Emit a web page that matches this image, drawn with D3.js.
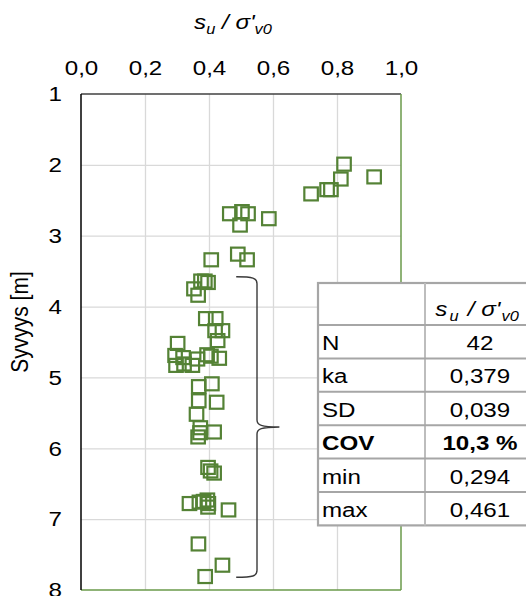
<!DOCTYPE html>
<html>
<head>
<meta charset="utf-8">
<script src="https://cdn.jsdelivr.net/npm/d3@7"></script>
<style>
  body { margin: 0; background: #fff; }
  text { font-family: "Liberation Sans", Arial, sans-serif; fill: #000; }
</style>
</head>
<body>
<svg id="chart" width="526" height="596"></svg>
<script>
// su / σ'v0 ratio against depth (m)
const ratio = [
  0.822, 0.812, 0.916, 0.769, 0.781, 0.719,
  0.465, 0.503, 0.522, 0.497, 0.587,
  0.407, 0.490, 0.519,
  0.375, 0.387, 0.397, 0.353, 0.366,
  0.390, 0.421, 0.419, 0.442, 0.427,
  0.302, 0.294, 0.297, 0.319, 0.322, 0.348, 0.364, 0.394, 0.406, 0.432,
  0.368, 0.409, 0.368, 0.424, 0.361, 0.373, 0.372, 0.366, 0.416,
  0.397, 0.405, 0.416,
  0.339, 0.370, 0.383, 0.395, 0.398, 0.397, 0.461,
  0.367, 0.442, 0.388
];
const depth = [
  1.99, 2.20, 2.17, 2.35, 2.35, 2.41,
  2.69, 2.66, 2.69, 2.85, 2.76,
  3.34, 3.26, 3.34,
  3.64, 3.64, 3.66, 3.75, 3.84,
  4.17, 4.17, 4.34, 4.34, 4.48,
  4.52, 4.69, 4.83, 4.72, 4.81, 4.83, 4.74, 4.68, 4.70, 4.73,
  5.13, 5.09, 5.33, 5.35, 5.52, 5.71, 5.78, 5.84, 5.77,
  6.27, 6.32, 6.35,
  6.78, 6.76, 6.75, 6.73, 6.78, 6.83, 6.87,
  7.35, 7.65, 7.81
];

const xTicks = [0, 0.2, 0.4, 0.6, 0.8, 1.0];
const yTicks = [1, 2, 3, 4, 5, 6, 7, 8];

// summary statistics of the bracketed depth range
const statLabels = ["N", "ka", "SD", "COV", "min", "max"];
const statValues = ["42", "0,379", "0,039", "10,3 %", "0,294", "0,461"];
const boldStat = "COV";
const bracketDepth = [3.58, 7.82];

const svg = d3.select("#chart");
const STRETCH = 1.15;
const green = "#548235";

const x = d3.scaleLinear().domain([0, 1]).range([81, 401]);
const y = d3.scaleLinear().domain([1, 8]).range([94, 590]);
const fmt = d => d3.format(".1f")(d).replace(".", ",");

// gridlines
svg.append("g")
  .attr("transform", `translate(0,${y(1)})`)
  .call(d3.axisTop(x).tickValues(xTicks.slice(1, -1)).tickSize(-(y(8) - y(1))).tickFormat(""))
  .call(g => g.select(".domain").remove())
  .call(g => g.selectAll("line").attr("stroke", "#d9d9d9").attr("stroke-width", 1.3));
svg.append("g")
  .attr("transform", `translate(${x(0)},0)`)
  .call(d3.axisLeft(y).tickValues(yTicks.slice(1, -1)).tickSize(-(x(1) - x(0))).tickFormat(""))
  .call(g => g.select(".domain").remove())
  .call(g => g.selectAll("line").attr("stroke", "#d9d9d9").attr("stroke-width", 1.3));

// plot frame
svg.append("line").attr("x1", x(0)).attr("x2", x(1)).attr("y1", y(1)).attr("y2", y(1))
  .attr("stroke", "#404040").attr("stroke-width", 1.3);
svg.append("line").attr("x1", x(1)).attr("x2", x(1)).attr("y1", y(1)).attr("y2", y(8))
  .attr("stroke", "#6a9a4a").attr("stroke-width", 1.5);
svg.append("line").attr("x1", x(0)).attr("x2", x(1)).attr("y1", y(8)).attr("y2", y(8))
  .attr("stroke", "#6a9a4a").attr("stroke-width", 1.5);
svg.append("line").attr("x1", x(0)).attr("x2", x(0)).attr("y1", y(1)).attr("y2", y(8))
  .attr("stroke", "#000").attr("stroke-width", 1.5);

// tick labels
svg.append("g")
  .attr("transform", `translate(0,${y(1)})`)
  .call(d3.axisTop(x).tickValues(xTicks).tickSize(0).tickPadding(19).tickFormat(fmt))
  .call(g => g.select(".domain").remove())
  .call(g => g.selectAll("text")
    .attr("font-size", 21).attr("fill", "#000")
    .attr("font-family", "Liberation Sans, Arial, sans-serif")
    .attr("transform", `scale(${STRETCH},1)`));
svg.append("g")
  .attr("transform", `translate(${x(0)},0)`)
  .call(d3.axisLeft(y).tickValues(yTicks).tickSize(0).tickPadding(19).tickFormat(d3.format("d")))
  .call(g => g.select(".domain").remove())
  .call(g => g.selectAll("text")
    .attr("font-size", 21).attr("fill", "#000")
    .attr("font-family", "Liberation Sans, Arial, sans-serif")
    .each(function () {
      const t = d3.select(this);
      const tx = +t.attr("x");
      t.attr("x", 0).attr("transform", `translate(${tx},0) scale(${STRETCH},1)`);
    }));

// axis titles
function ratioTitle(sel, size, gap) {
  sel.append("tspan").attr("font-style", "italic").text("s");
  sel.append("tspan").attr("font-style", "italic").attr("font-size", size * 0.68)
    .attr("dx", gap).attr("dy", size * 0.22).text("u");
  sel.append("tspan").attr("font-style", "italic").attr("dy", -size * 0.22)
    .attr("dx", gap).text(" / σ'");
  sel.append("tspan").attr("font-style", "italic").attr("font-size", size * 0.68)
    .attr("dx", gap * 0.5).attr("dy", size * 0.22).text("v0");
}
svg.append("text")
  .attr("text-anchor", "middle").attr("font-size", 21)
  .attr("transform", `translate(233,29) scale(${STRETCH},1)`)
  .call(ratioTitle, 21, 0);
svg.append("text")
  .attr("text-anchor", "middle").attr("font-size", 21)
  .attr("transform", `translate(28,322) scale(${STRETCH},1) rotate(-90)`)
  .text("Syvyys [m]");

// data markers
const ms = { w: 13.5, h: 13 };
svg.append("g").selectAll("rect")
  .data(d3.range(ratio.length))
  .join("rect")
  .attr("x", i => x(ratio[i]) - ms.w / 2)
  .attr("y", i => y(depth[i]) - ms.h / 2)
  .attr("width", ms.w).attr("height", ms.h)
  .attr("fill", "none").attr("stroke", green).attr("stroke-width", 2.2);

// curly bracket marking the depth range of the statistics
{
  const y0 = y(bracketDepth[0]), y1 = y(bracketDepth[1]);
  const ym = (y0 + y1) / 2;
  const xa = x(0.485), xb = x(0.55), xc = x(0.62);
  const r = 7;
  const p = d3.path();
  p.moveTo(xa, y0);
  p.bezierCurveTo(xb - 4, y0, xb, y0 + 1, xb, y0 + r);
  p.lineTo(xb, ym - r);
  p.bezierCurveTo(xb, ym - 2, xb + 4, ym, xc, ym);
  p.bezierCurveTo(xb + 4, ym, xb, ym + 2, xb, ym + r);
  p.lineTo(xb, y1 - r);
  p.bezierCurveTo(xb, y1 - 1, xb - 4, y1, xa, y1);
  svg.append("path").attr("d", p.toString())
    .attr("fill", "none").attr("stroke", "#3a3a3a").attr("stroke-width", 1.4);
}

// statistics table
{
  const tx = 318, ty = 283, tw = 230, headH = 42, rowH = 33.4, colX = 425, valX = 480;
  const rows = statLabels.length;
  const tb = svg.append("g");
  tb.append("rect").attr("x", tx).attr("y", ty).attr("width", tw)
    .attr("height", headH + rows * rowH).attr("fill", "#fff")
    .attr("stroke", "#a6a6a6").attr("stroke-width", 2.2);
  tb.append("line").attr("x1", colX).attr("x2", colX).attr("y1", ty).attr("y2", ty + headH + rows * rowH)
    .attr("stroke", "#bdbdbd").attr("stroke-width", 2);
  tb.selectAll("line.row").data(d3.range(rows)).join("line").attr("class", "row")
    .attr("x1", tx).attr("x2", tx + tw)
    .attr("y1", i => ty + headH + i * rowH).attr("y2", i => ty + headH + i * rowH)
    .attr("stroke", "#a6a6a6").attr("stroke-width", 2);

  tb.append("text").attr("text-anchor", "middle").attr("font-size", 21)
    .attr("transform", `translate(${valX - 3},${ty + 33}) scale(${STRETCH},1)`)
    .call(ratioTitle, 21, 2);

  statLabels.forEach((lab, i) => {
    const base = ty + headH + i * rowH + 25;
    const bold = lab === boldStat ? "bold" : "normal";
    tb.append("text").attr("font-size", 21).attr("font-weight", bold)
      .attr("transform", `translate(${tx + 4},${base}) scale(${STRETCH},1)`)
      .text(lab);
    tb.append("text").attr("font-size", 21).attr("font-weight", bold).attr("text-anchor", "middle")
      .attr("transform", `translate(${valX},${base}) scale(${STRETCH},1)`)
      .text(statValues[i]);
  });
}
</script>
</body>
</html>
